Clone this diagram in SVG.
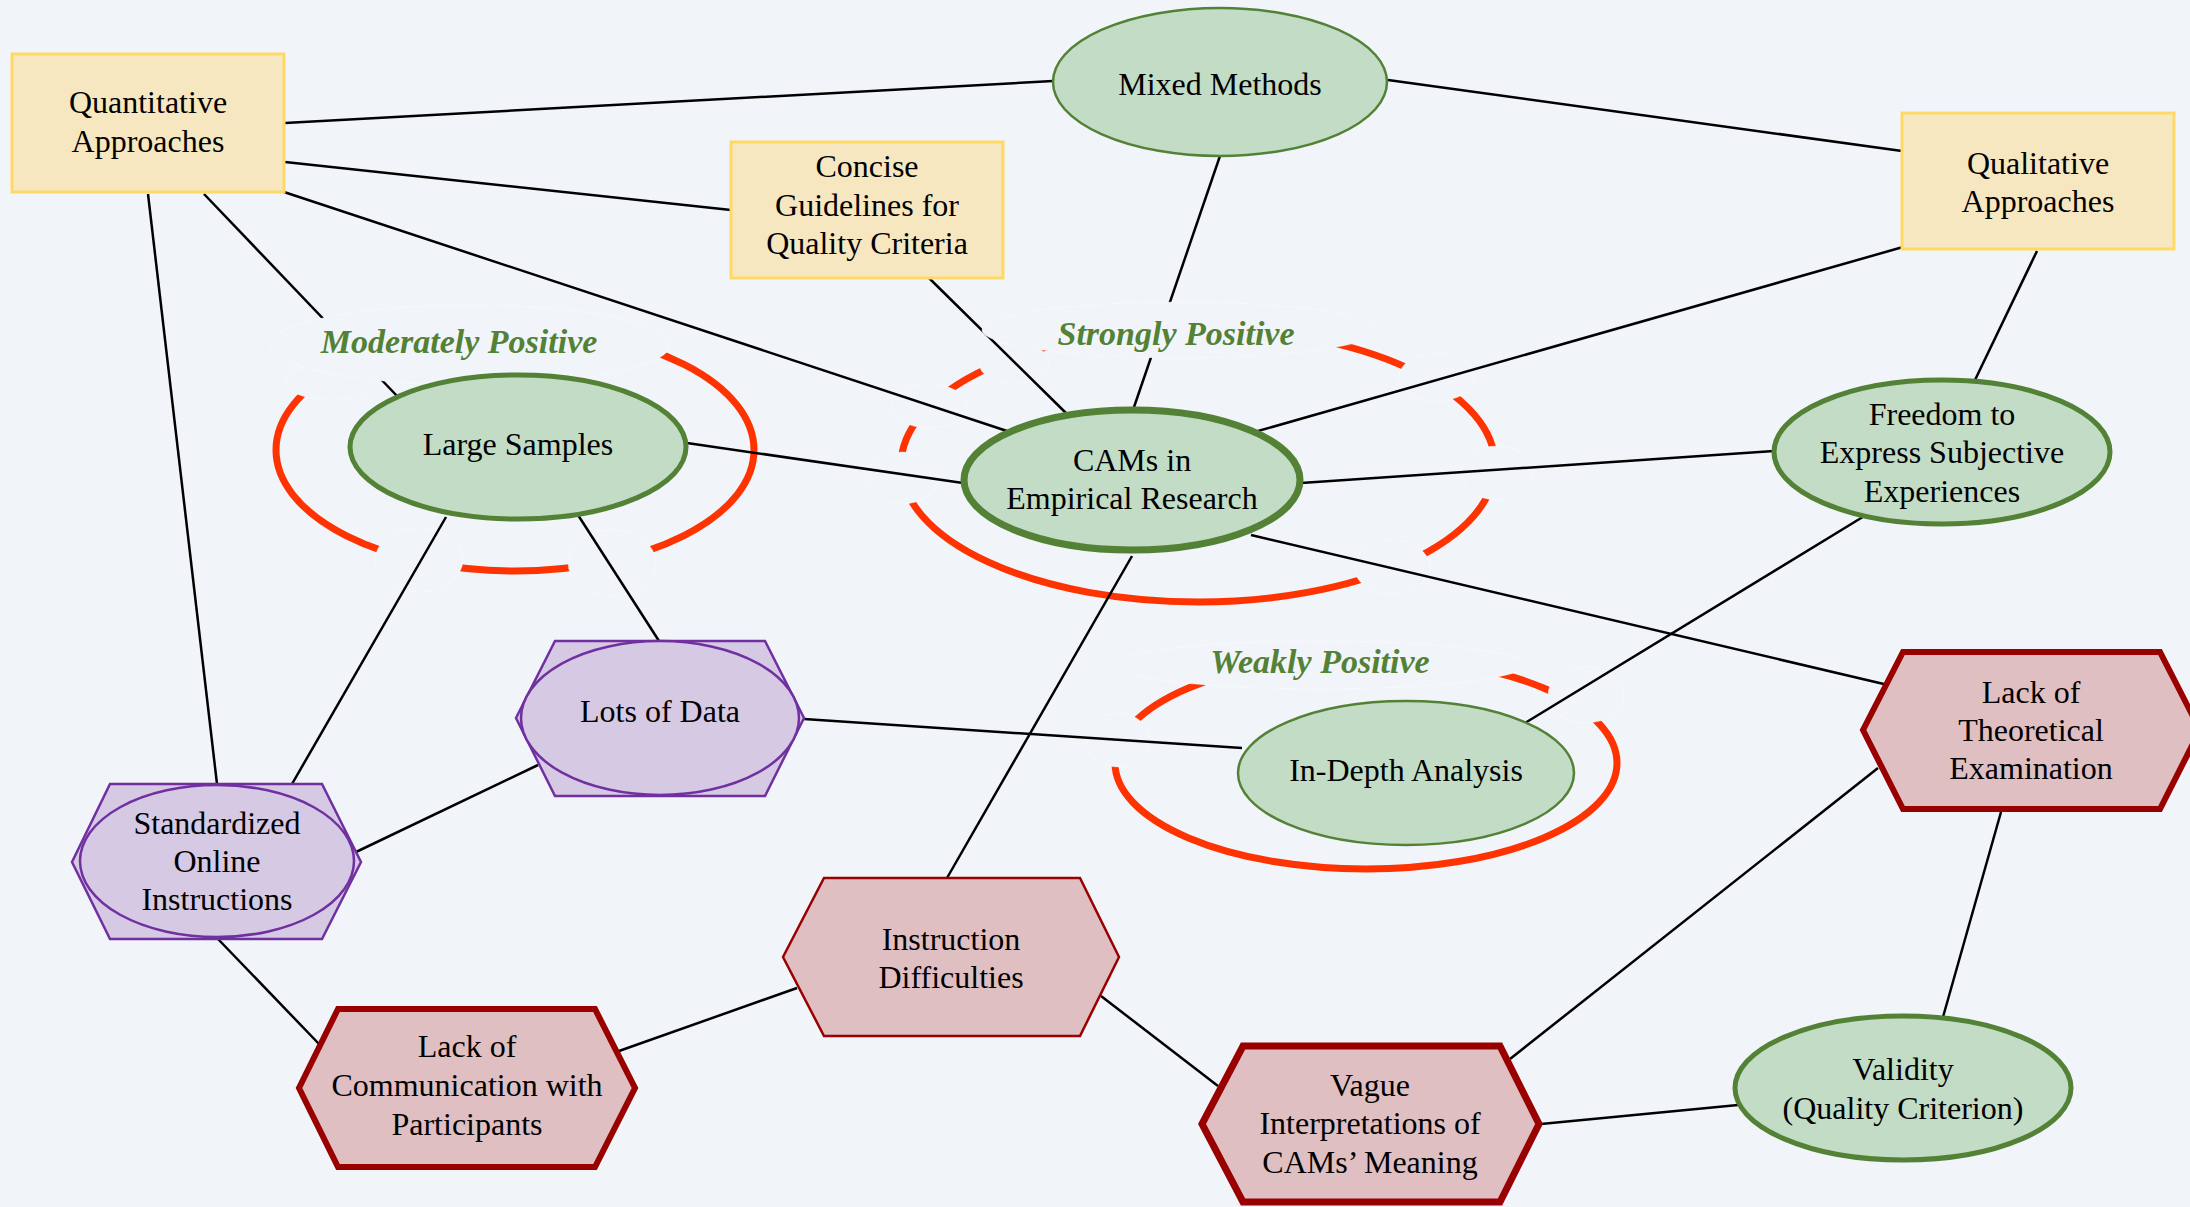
<svg xmlns="http://www.w3.org/2000/svg" width="2190" height="1207" viewBox="0 0 2190 1207">
  <style>
    text { font-family: "Liberation Serif", "Times New Roman", serif; font-size: 32px; fill: #000; text-anchor: middle; }
    .lbl { font-weight: bold; font-style: italic; font-size: 34px; fill: #538135; }
    .ring { fill: none; stroke: #ff3300; stroke-width: 7; }
    .gap { fill: #f1f4f9; stroke: #ffffff; stroke-width: 1; stroke-opacity: 0.35; }
    .edge line { stroke: #000; stroke-width: 2.5; }
    .rect { fill: #f6e7c1; stroke: #ffd966; stroke-width: 3; }
    .green { fill: #c2dcc6; stroke: #538135; }
    .purple { fill: #d5c9e4; stroke: #7030a0; stroke-width: 2.5; }
    .red { fill: #dfbfc2; stroke: #990000; stroke-linejoin: miter; }
  </style>

  <rect width="2190" height="1207" fill="#f1f4f9"/>

  <!-- strength rings around key nodes -->
  <g id="rings">
    <ellipse class="ring" cx="515" cy="450" rx="239" ry="121"/>
    <ellipse class="ring" cx="1198" cy="465" rx="297" ry="137"/>
    <ellipse class="ring" cx="1366" cy="763" rx="251" ry="106"/>
  </g>

  <!-- breaks in the rings where connectors pass -->
  <g id="ring-breaks">
    <ellipse class="gap" cx="330" cy="382" rx="44" ry="18"/>
    <ellipse class="gap" cx="419" cy="560" rx="44" ry="32"/>
    <ellipse class="gap" cx="612" cy="563" rx="44" ry="33"/>
    <ellipse class="gap" cx="1014" cy="363" rx="35" ry="21"/>
    <ellipse class="gap" cx="929" cy="406" rx="38" ry="22"/>
    <ellipse class="gap" cx="902" cy="478" rx="36" ry="26"/>
    <ellipse class="gap" cx="1437" cy="377" rx="38" ry="24"/>
    <ellipse class="gap" cx="1497" cy="473" rx="36" ry="27"/>
    <ellipse class="gap" cx="1392" cy="567" rx="38" ry="27"/>
    <ellipse class="gap" cx="1118" cy="740" rx="32" ry="27"/>
    <ellipse class="gap" cx="1586" cy="695" rx="38" ry="28"/>
  </g>

  <g id="connectors" class="edge">
    <line x1="285" y1="123" x2="1053" y2="81"/>
    <line x1="285" y1="162" x2="731" y2="210"/>
    <line x1="284" y1="192" x2="1013" y2="433"/>
    <line x1="204" y1="194" x2="398" y2="397"/>
    <line x1="148" y1="194" x2="217" y2="784"/>
    <line x1="1388" y1="80" x2="1902" y2="151"/>
    <line x1="1221" y1="153" x2="1133" y2="410"/>
    <line x1="929" y1="278" x2="1070" y2="417"/>
    <line x1="1903" y1="247" x2="1251" y2="433"/>
    <line x1="2037" y1="251" x2="1975" y2="380"/>
    <line x1="687" y1="443" x2="963" y2="483"/>
    <line x1="446" y1="517" x2="292" y2="784"/>
    <line x1="578" y1="515" x2="659" y2="641"/>
    <line x1="1301" y1="483" x2="1774" y2="451"/>
    <line x1="1251" y1="535" x2="1888" y2="685"/>
    <line x1="1132" y1="556" x2="947" y2="878"/>
    <line x1="804" y1="719" x2="1242" y2="748"/>
    <line x1="538" y1="765" x2="356" y2="852"/>
    <line x1="1866" y1="515" x2="1525" y2="723"/>
    <line x1="218" y1="939" x2="320" y2="1045"/>
    <line x1="619" y1="1051" x2="797" y2="988"/>
    <line x1="1101" y1="996" x2="1218" y2="1086"/>
    <line x1="1510" y1="1059" x2="1878" y2="768"/>
    <line x1="1541" y1="1124" x2="1738" y2="1105"/>
    <line x1="2001" y1="812" x2="1943" y2="1017"/>
  </g>

  <!-- ring labels -->
  <g id="label-moderately">
    <ellipse class="gap" cx="470" cy="345" rx="200" ry="40"/>
    <text class="lbl" x="459" y="353">Moderately Positive</text>
  </g>
  <g id="label-strongly">
    <ellipse class="gap" cx="1180" cy="330" rx="198" ry="28"/>
    <text class="lbl" x="1176" y="345">Strongly Positive</text>
  </g>
  <g id="label-weakly">
    <ellipse class="gap" cx="1320" cy="665" rx="205" ry="24"/>
    <text class="lbl" x="1320" y="673">Weakly Positive</text>
  </g>

  <g id="quantitative">
    <rect class="rect" x="12" y="54" width="272" height="138"/>
    <text x="148" y="113">Quantitative</text>
    <text x="148" y="152">Approaches</text>
  </g>
  <g id="concise">
    <rect class="rect" x="731" y="142" width="272" height="136"/>
    <text x="867" y="177">Concise</text>
    <text x="867" y="215.5">Guidelines for</text>
    <text x="867" y="254">Quality Criteria</text>
  </g>
  <g id="qualitative">
    <rect class="rect" x="1902" y="113" width="272" height="136"/>
    <text x="2038" y="173.5">Qualitative</text>
    <text x="2038" y="212">Approaches</text>
  </g>
  <g id="mixed">
    <ellipse class="green" cx="1220" cy="82" rx="167" ry="74" stroke-width="2.5"/>
    <text x="1220" y="95">Mixed Methods</text>
  </g>
  <g id="large-samples">
    <ellipse class="green" cx="518" cy="447" rx="168" ry="72" stroke-width="5"/>
    <text x="518" y="455">Large Samples</text>
  </g>
  <g id="cams">
    <ellipse class="green" cx="1132" cy="480" rx="168" ry="70" stroke-width="7"/>
    <text x="1132" y="470.5">CAMs in</text>
    <text x="1132" y="508.5">Empirical Research</text>
  </g>
  <g id="freedom">
    <ellipse class="green" cx="1942" cy="452" rx="168" ry="72" stroke-width="5"/>
    <text x="1942" y="425">Freedom to</text>
    <text x="1942" y="463">Express Subjective</text>
    <text x="1942" y="502">Experiences</text>
  </g>
  <g id="lots-of-data">
    <polygon class="purple" points="516,718 555,641 765,641 804,718 765,796 555,796"/>
    <ellipse class="purple" cx="660" cy="718" rx="139" ry="77"/>
    <text x="660" y="722">Lots of Data</text>
  </g>
  <g id="standardized">
    <polygon class="purple" points="72,862 110,784 322,784 361,862 322,939 110,939"/>
    <ellipse class="purple" cx="217" cy="861" rx="137" ry="76"/>
    <text x="217" y="834">Standardized</text>
    <text x="217" y="872">Online</text>
    <text x="217" y="910">Instructions</text>
  </g>
  <g id="in-depth">
    <ellipse class="green" cx="1406" cy="773" rx="168" ry="72" stroke-width="2.5"/>
    <text x="1406" y="781">In-Depth Analysis</text>
  </g>
  <g id="lack-theoretical">
    <polygon class="red" stroke-width="6" points="1863,730 1903,652 2160,652 2200,730 2160,809 1903,809"/>
    <text x="2031" y="703">Lack of</text>
    <text x="2031" y="741">Theoretical</text>
    <text x="2031" y="779">Examination</text>
  </g>
  <g id="instruction-difficulties">
    <polygon class="red" stroke-width="2.5" points="783,957 824,878 1080,878 1119,957 1080,1036 824,1036"/>
    <text x="951" y="950">Instruction</text>
    <text x="951" y="988">Difficulties</text>
  </g>
  <g id="lack-communication">
    <polygon class="red" stroke-width="6" points="299,1088 338,1009 595,1009 635,1088 595,1167 338,1167"/>
    <text x="467" y="1057">Lack of</text>
    <text x="467" y="1096">Communication with</text>
    <text x="467" y="1135">Participants</text>
  </g>
  <g id="vague">
    <polygon class="red" stroke-width="7" points="1202,1124 1243,1046 1500,1046 1539,1124 1500,1202 1243,1202"/>
    <text x="1370" y="1096">Vague</text>
    <text x="1370" y="1134">Interpretations of</text>
    <text x="1370" y="1173">CAMs’ Meaning</text>
  </g>
  <g id="validity">
    <ellipse class="green" cx="1903" cy="1088" rx="168" ry="72" stroke-width="5"/>
    <text x="1903" y="1080">Validity</text>
    <text x="1903" y="1119">(Quality Criterion)</text>
  </g>
</svg>
